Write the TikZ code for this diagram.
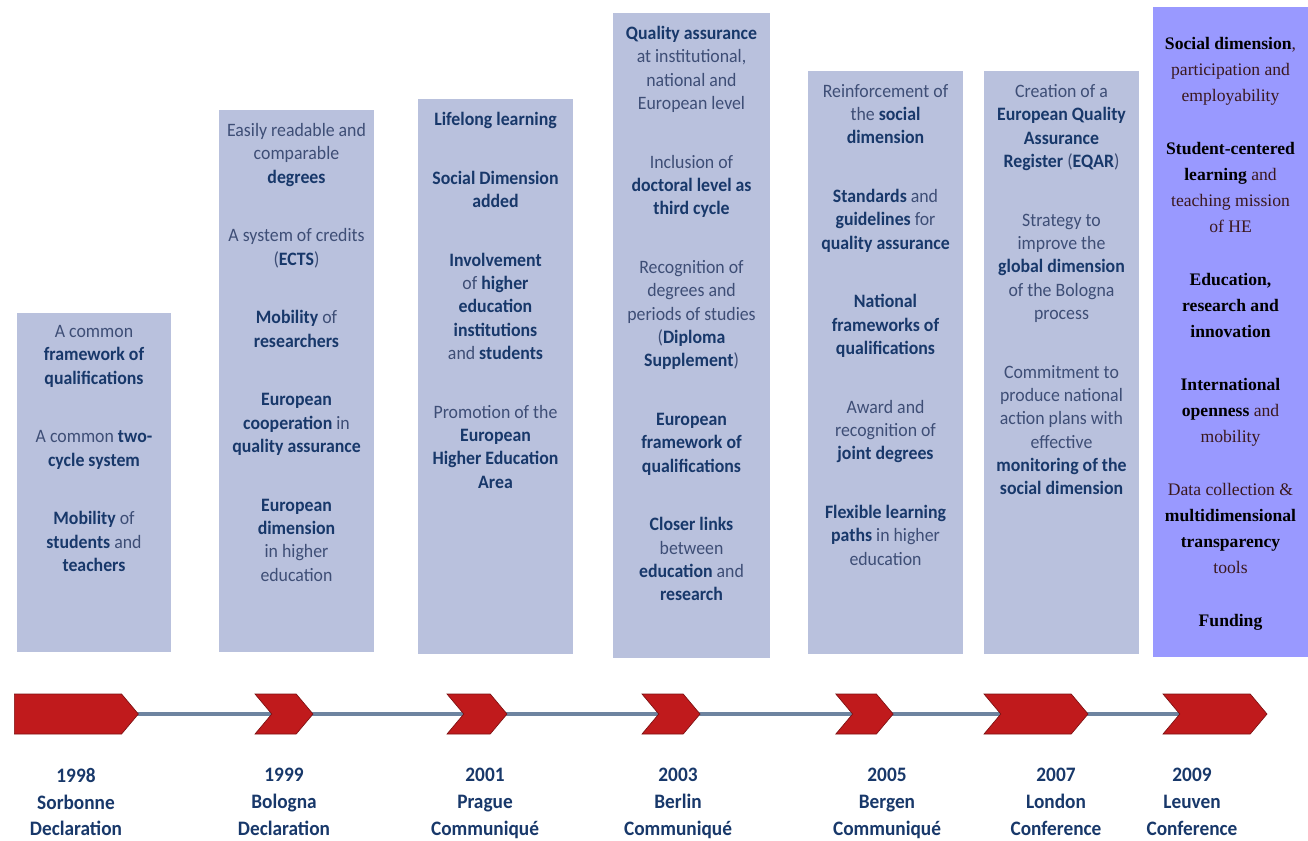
\documentclass[tikz,border=0pt]{standalone}
\usepackage{fontspec}
\setmainfont{Carlito}[FakeStretch=0.94]
\newfontfamily\timesface{Liberation Serif}
\usepackage{tikz}
\usetikzlibrary{arrows.meta,positioning,shapes.symbols,backgrounds}
\definecolor{boxblue}{RGB}{185,193,221}
\definecolor{boxviolet}{RGB}{153,153,255}
\definecolor{navy}{RGB}{24,56,106}
\definecolor{softnavy}{RGB}{62,78,118}
\definecolor{arrowred}{RGB}{192,26,28}
\definecolor{linegrey}{RGB}{110,132,160}
\definecolor{inkred}{RGB}{58,24,30}
\newcommand{\hl}[1]{{\bfseries\color{navy}#1}}
\newcommand{\hb}[1]{{\bfseries\color{black}#1}}
\newcommand{\gap}{\\[26.5pt]}
\newcommand{\sgap}{\\[20.3pt]}

\begin{document}
\begin{tikzpicture}[x=0.75pt, y=-0.75pt,
    panel/.style={fill=boxblue},
    notes/.style={anchor=north, align=center, inner sep=0pt, text=softnavy,
      font=\fontsize{14.2}{17.5}\selectfont},
    eventlabel/.style={anchor=north, align=center, inner sep=0pt, text=navy,
      font=\fontsize{15.4}{20}\selectfont\bfseries},
    milestone/.style={signal, signal to=east, fill=arrowred, draw=arrowred!65!black,
      line width=0.5pt, minimum height=30pt, inner sep=0pt, signal pointer angle=100},
    chevron/.style={milestone, signal from=west}]
    \useasboundingbox (0,0) rectangle (1308,840);

    % Columns of reforms
    \fill[panel] (17,313) rectangle (171,652);
    \fill[panel] (219,110) rectangle (374,652);
    \fill[panel] (418,99) rectangle (573,654);
    \fill[panel] (613,13) rectangle (770,658);
    \fill[panel] (808,71) rectangle (963,654);
    \fill[panel] (984,71) rectangle (1139,654);
    \fill[boxviolet] (1153,7) rectangle (1308,657);

    \node[notes] (n1998) at (94,325) {A common\\ \hl{framework of}\\ \hl{qualifications}\gap
      A common \hl{two-}\\ \hl{cycle system}\gap
      \hl{Mobility} of\\ \hl{students} and\\ \hl{teachers}};
    \node[notes] (n1999) at (296.5,123) {Easily readable and\\ comparable\\ \hl{degrees}\gap
      A system of credits\\ (\hl{ECTS})\gap
      \hl{Mobility} of\\ \hl{researchers}\gap
      \hl{European}\\ \hl{cooperation} in\\ \hl{quality assurance}\gap
      \hl{European}\\ \hl{dimension}\\ in higher\\ education};
    \node[notes] (n2001) at (495.5,112) {\hl{Lifelong learning}\gap
      \hl{Social Dimension}\\ \hl{added}\gap
      \hl{Involvement}\\ of \hl{higher}\\ \hl{education}\\ \hl{institutions}\\ and \hl{students}\gap
      Promotion of the\\ \hl{European}\\ \hl{Higher Education}\\ \hl{Area}};
    \node[notes] (n2003) at (691.5,26) {\hl{Quality assurance}\\ at institutional,\\ national and\\ European level\gap
      Inclusion of\\ \hl{doctoral level as}\\ \hl{third cycle}\gap
      Recognition of\\ degrees and\\ periods of studies\\ (\hl{Diploma}\\ \hl{Supplement})\gap
      \hl{European}\\ \hl{framework of}\\ \hl{qualifications}\gap
      \hl{Closer links}\\ between\\ \hl{education} and\\ \hl{research}};
    \node[notes] (n2005) at (885.5,84) {Reinforcement of\\ the \hl{social}\\ \hl{dimension}\gap
      \hl{Standards} and\\ \hl{guidelines} for\\ \hl{quality assurance}\gap
      \hl{National}\\ \hl{frameworks of}\\ \hl{qualifications}\gap
      Award and\\ recognition of\\ \hl{joint degrees}\gap
      \hl{Flexible learning}\\ \hl{paths} in higher\\ education};
    \node[notes] (n2007) at (1061.5,84) {Creation of a\\ \hl{European Quality}\\ \hl{Assurance}\\ \hl{Register} (\hl{EQAR})\gap
      Strategy to\\ improve the\\ \hl{global dimension}\\ of the Bologna\\ process\gap
      Commitment to\\ produce national\\ action plans with\\ effective\\ \hl{monitoring of the}\\ \hl{social dimension}};
    \node[notes, text=inkred, font=\timesface\fontsize{13.2}{19.5}\selectfont] (n2009) at (1230.5,37)
      {\hb{Social dimension}, \\ participation and\\ employability\sgap
      \hb{Student-centered}\\ \hb{learning} and\\ teaching mission\\ of HE\sgap
      \hb{Education,}\\ \hb{research and}\\ \hb{innovation}\sgap
      \hb{International}\\ \hb{openness} and\\ mobility\sgap
      Data collection \&\\ \hb{multidimensional}\\ \hb{transparency}\\ tools\sgap
      \hb{Funding}};

    % Timeline milestones
    \node[milestone, minimum width=93pt, anchor=west] (a1998) at (14,714) {};
    \node[chevron, minimum width=43.5pt] (a1999) at (284,714) {};
    \node[chevron, minimum width=45pt] (a2001) at (477,714) {};
    \node[chevron, minimum width=43.5pt] (a2003) at (671,714) {};
    \node[chevron, minimum width=43pt] (a2005) at (864.5,714) {};
    \node[chevron, minimum width=78pt] (a2007) at (1036,714) {};
    \node[chevron, minimum width=78pt] (a2009) at (1215,714) {};
    \begin{scope}[on background layer]
      \draw[linegrey, line width=2.6pt] (a1998.center) -- (a2009.center);
    \end{scope}

    % Dates and events
    \node[eventlabel] (e1998) at (76,768) {1998\\ Sorbonne\\ Declaration};
    \node[eventlabel] (e1999) at (284,768) {1999\\ Bologna\\ Declaration};
    \node[eventlabel] (e2001) at (485,768) {2001\\ Prague\\ Communiqué};
    \node[eventlabel] (e2003) at (678,768) {2003\\ Berlin\\ Communiqué};
    \node[eventlabel] (e2005) at (887,768) {2005\\ Bergen\\ Communiqué};
    \node[eventlabel] (e2007) at (1056,768) {2007\\ London\\ Conference};
    \node[eventlabel] (e2009) at (1192,768) {2009\\ Leuven\\ Conference};
\end{tikzpicture}
\end{document}
